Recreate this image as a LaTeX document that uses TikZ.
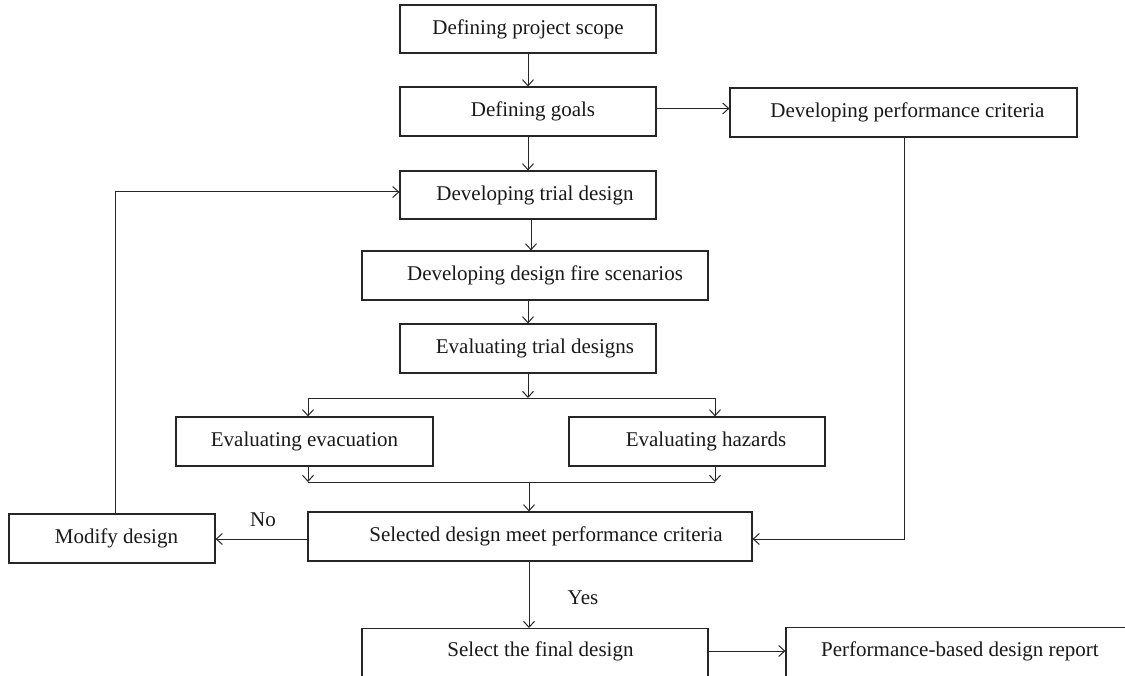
\documentclass[tikz,border=0pt]{standalone}
\usepackage{fontspec}
\setmainfont{Liberation Serif}
\usetikzlibrary{arrows.meta,calc}
\newcommand{\sh}[1]{\hspace*{#1pt}}
\begin{document}
\begin{tikzpicture}[x=1pt,y=1pt,
  box/.style={draw=black!85,line width=1.2pt,rectangle,inner sep=0pt,minimum height=49pt,font=\fontsize{21}{23}\selectfont,text=black!90},
  arr/.style={draw=black!85,line width=1pt,-{Straight Barb[length=6pt,width=11pt,line width=1pt]}},
  ln/.style={draw=black!85,line width=1pt},
  lab/.style={font=\fontsize{21}{23}\selectfont,text=black!90}]
\useasboundingbox (0,0) rectangle (1125,-676);
\clip (0,0) rectangle (1125,-676);
\fill[white] (0,0) rectangle (1125,-676);
\node[box,minimum width=256pt,minimum height=48pt] (b1) at (528,-29) {Defining project scope};
\node[box,minimum width=256pt] (b2) at (528,-111.5) {\sh{10}Defining goals};
\node[box,minimum width=347pt] (b3) at (903.5,-112.5) {\sh{8}Developing performance criteria};
\node[box,minimum width=256pt,minimum height=48pt] (b4) at (528,-195) {\sh{14}Developing trial design};
\node[box,minimum width=346pt] (b5) at (535,-275.5) {\sh{20}Developing design fire scenarios};
\node[box,minimum width=256pt] (b6) at (528,-348.5) {\sh{14}Evaluating trial designs};
\node[box,minimum width=257pt] (b7) at (304.5,-441.5) {Evaluating evacuation};
\node[box,minimum width=256pt] (b8) at (697,-441.5) {\sh{18}Evaluating hazards};
\node[box,minimum width=206pt] (b9) at (112,-538.5) {\sh{9}Modify design};
\node[box,minimum width=444pt] (b10) at (530,-536.5) {\sh{32}Selected design meet performance criteria};
\node[box,minimum width=346pt,minimum height=0pt,text height=28pt,text depth=40pt,anchor=north] (b11) at (535,-628) {\sh{11}Select the final design};
\node[box,minimum width=348pt,minimum height=0pt,text height=29pt,text depth=40pt,anchor=north] (b12) at (960,-627) {Performance-based design report};
% coordinates
\coordinate (brL) at (308,-398);
\coordinate (brR) at (715,-398);
\coordinate (brM) at (528,-398);
\coordinate (mgL) at (308,-482);
\coordinate (mgR) at (715,-482);
\coordinate (mgM) at (529,-482);
\coordinate (fb) at (115,-192);
% connectors
\draw[arr] (b1.south) -- (b2.north);
\draw[arr] ($(b2.east)+(0,3)$) -- ($(b2.east -| b3.west)+(0,3)$);
\draw[arr] (b2.south) -- (b4.north);
\draw[arr] ($(b4.south)+(3,0)$) -- ($(b4.south |- b5.north)+(3,0)$);
\draw[arr] (b5.south -| b6.south) -- (b6.north);
\draw[arr] (b6.south) -- (brM);
\draw[ln] (brL) -- (brR);
\draw[arr] (brL) -- (brL |- b7.north);
\draw[arr] (brR) -- (brR |- b8.north);
\draw[arr] (brL |- b7.south) -- (mgL);
\draw[arr] (brR |- b8.south) -- (mgR);
\draw[ln] (mgL) -- (mgR);
\draw[arr] (mgM) -- (mgM |- b10.north);
\draw[arr] ($(b3.south)+(0.5,0)$) |- ($(b10.east)+(0,-2.5)$);
\draw[arr] ($(b10.west)+(0,-2.5)$) -- ($(b9.east)+(0,-0.5)$);
\draw[ln] (b9.north -| fb) -- (fb);
\draw[arr] (fb) -- (fb -| b4.west);
\draw[arr] (b10.south -| mgM) -- (mgM |- b11.north);
\draw[arr] ($(b11.north east)+(0,-23)$) -- ($(b12.north west)+(0,-24)$);
% labels
\node[lab] (no) at (263,-520) {No};
\node[lab] (yes) at (583,-598) {Yes};
\end{tikzpicture}
\end{document}
